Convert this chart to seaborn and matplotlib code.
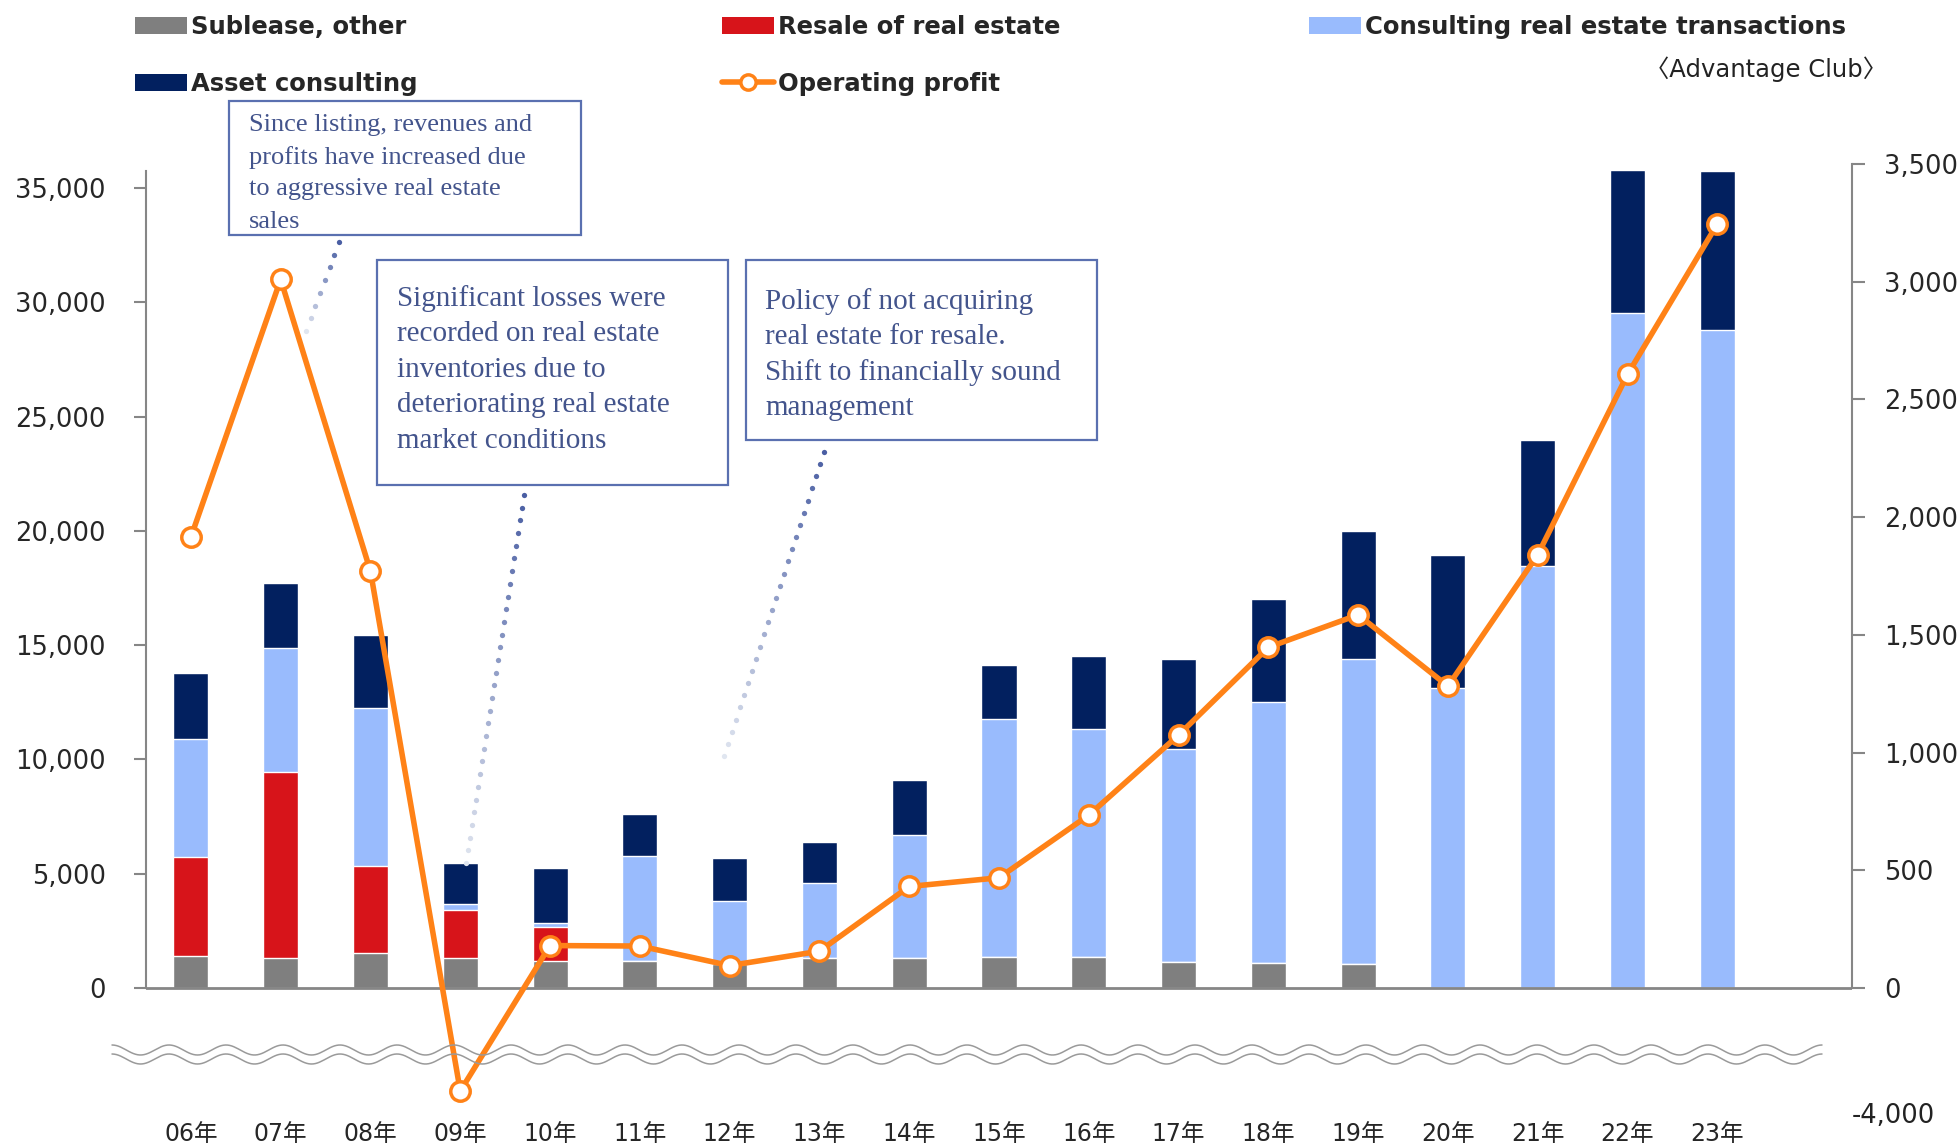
import numpy as np
import matplotlib
matplotlib.use('Agg')
import matplotlib.pyplot as plt
import seaborn as sns
from matplotlib.patches import Patch, Rectangle
from matplotlib.lines import Line2D
from matplotlib.ticker import FixedLocator, FuncFormatter

# data
years = ['06年', '07年', '08年', '09年', '10年', '11年', '12年', '13年', '14年',
         '15年', '16年', '17年', '18年', '19年', '20年', '21年', '22年', '23年']
sublease = [1400, 1330, 1510, 1290, 1190, 1160, 1070, 1330, 1320,
            1360, 1350, 1130, 1100, 1070, 0, 0, 0, 0]
resale = [4350, 8110, 3820, 2120, 1475, 0, 0, 0, 0,
          0, 0, 0, 0, 0, 0, 0, 0, 0]
consulting = [5150, 5420, 6920, 280, 190, 4620, 2720, 3280, 5360,
              10410, 9990, 9330, 11390, 13330, 13140, 18450, 29520, 28800]
asset = [2900, 2850, 3210, 1785, 2385, 1830, 1880, 1760, 2410,
         2360, 3170, 3940, 4540, 5590, 5810, 5540, 6250, 6960]
op_profit = [1915, 3010, 1770, -3220, 180, 178, 95, 156, 431,
             468, 734, 1074, 1447, 1585, 1282, 1840, 2606, 3245]

left_ticks = [0, 5000, 10000, 15000, 20000, 25000, 30000, 35000]
right_ticks = [0, 500, 1000, 1500, 2000, 2500, 3000, 3500]

notes = [
    ['Since listing, revenues and', 'profits have increased due',
     'to aggressive real estate', 'sales'],
    ['Significant losses were', 'recorded on real estate',
     'inventories due to', 'deteriorating real estate',
     'market conditions'],
    ['Policy of not acquiring', 'real estate for resale.',
     'Shift to financially sound', 'management'],
]

GRAY = '#7F7F7F'
RED = '#D7141A'
LBLUE = '#99BBFD'
NAVY = '#02205F'
ORANGE = '#FF8217'
AXC = '#868686'
NOTE_C = '#43548C'
BOX_C = '#5A70B0'

sns.set_theme(style='white')
plt.rcParams['font.family'] = ['DejaVu Sans', 'Noto Sans CJK JP']

W, H = 1959, 1145
fx = lambda px: px / W
fy = lambda py: 1 - py / H

fig = plt.figure(figsize=(W / 100, H / 100), dpi=100)
ax = fig.add_axes([fx(146), fy(1116), fx(1852) - fx(146), fy(164) - fy(1116)])

# stacked bars: draw cumulative totals back to front
c1 = np.array(sublease)
c2 = c1 + np.array(resale)
c3 = c2 + np.array(consulting)
c4 = c3 + np.array(asset)
for vals, col in [(c4, NAVY), (c3, LBLUE), (c2, RED), (c1, GRAY)]:
    sns.barplot(x=years, y=vals, color=col, saturation=1, width=0.39,
                errorbar=None, ax=ax)
ax.set(xlabel='', ylabel='')
ax.set_xlim(-0.5, 18.5)
ax.set_ylim(-5600, 36046)
ax.yaxis.set_major_locator(FixedLocator(left_ticks))
ax.yaxis.set_major_formatter(FuncFormatter(lambda v, p: f'{v:,.0f}'))
for s in ['top', 'right', 'bottom']:
    ax.spines[s].set_visible(False)
ax.spines['left'].set_bounds(0, 35750)
ax.spines['left'].set_color(AXC)
ax.spines['left'].set_linewidth(1.5)
ax.axhline(0, color=AXC, lw=2, zorder=5)
ax.tick_params(axis='y', length=9, width=1.5, color=AXC, pad=20,
               labelsize=18.5, left=True)
ax.tick_params(axis='x', length=0, pad=4, labelsize=17)

# operating profit on a broken right axis
k = 0.136
fwd = lambda y: np.where(y < 0, y * k, y)
inv = lambda y: np.where(y < 0, y / k, y)
ax2 = ax.twinx()
ax2.set_yscale('function', functions=(fwd, inv))
sns.lineplot(x=np.arange(len(years)), y=op_profit, ax=ax2, color=ORANGE, lw=4,
             marker='o', markersize=14, markerfacecolor='white',
             markeredgecolor=ORANGE, markeredgewidth=2.5, zorder=6)
ax2.set_ylim(-4000, 3500)
ax2.set_xlim(-0.5, 18.5)
ax2.yaxis.set_major_locator(FixedLocator(right_ticks))
ax2.yaxis.set_major_formatter(FuncFormatter(lambda v, p: f'{v:,.0f}'))
for s in ['top', 'left', 'bottom']:
    ax2.spines[s].set_visible(False)
ax2.spines['right'].set_bounds(0, 3500)
ax2.spines['right'].set_color(AXC)
ax2.spines['right'].set_linewidth(1.5)
ax2.tick_params(axis='y', length=9, width=1.5, color=AXC, pad=14,
                labelsize=18.5, right=True)
ax2.set_ylabel('')
ax2.text(1.0, -4000, '-4,000', transform=ax2.get_yaxis_transform(),
         ha='left', va='center', fontsize=18.5, color='#222222')

# wavy break marks
xs = np.linspace(112, 1822, 800)
for yc in (1050, 1059):
    ys = yc - 5 * np.cos((xs - 112) / 57 * 2 * np.pi)
    fig.add_artist(Line2D(fx(xs), fy(ys), color='#9A9A9A', lw=1.1,
                          transform=fig.transFigure))

# legend
fs = 17.5
lkw = dict(loc='upper left', frameon=False, borderpad=0, borderaxespad=0,
           handlelength=2.14, handleheight=0.74, handletextpad=0.18,
           labelspacing=1.36, prop=dict(weight='bold', size=fs))
h_sub = Patch(facecolor=GRAY, edgecolor='none')
h_res = Patch(facecolor=RED, edgecolor='none')
h_con = Patch(facecolor=LBLUE, edgecolor='none')
h_ast = Patch(facecolor=NAVY, edgecolor='none')
h_op = Line2D([], [], color=ORANGE, lw=4, marker='o', ms=11,
              mfc='white', mec=ORANGE, mew=2.5)
fig.legend([h_sub, h_ast], ['Sublease, other', 'Asset consulting'],
           bbox_to_anchor=(fx(135), fy(15)), **lkw)
fig.legend([h_res, h_op], ['Resale of real estate', 'Operating profit'],
           bbox_to_anchor=(fx(722), fy(15)), **lkw)
fig.legend([h_con], ['Consulting real estate transactions'],
           bbox_to_anchor=(fx(1309), fy(15)), **lkw)
fig.text(fx(1887), fy(69), '〈Advantage Club〉', ha='right', va='center',
         fontsize=fs, color='#222222')

# note boxes
boxes = [((229, 101, 581, 235), 249, 125, 32.2, 19),
         ((377, 260, 728, 485), 397, 299, 35.4, 21),
         ((746, 260, 1097, 440), 765, 302, 35.4, 21)]
for (x0, y0, x1, y1), tx, ty, sp, size in boxes:
    fig.add_artist(Rectangle((fx(x0), fy(y1)), fx(x1) - fx(x0), fy(y0) - fy(y1),
                             transform=fig.transFigure, facecolor='white',
                             edgecolor=BOX_C, lw=1.6, zorder=7))
for ((x0, y0, x1, y1), tx, ty, sp, size), lines in zip(boxes, notes):
    for i, line in enumerate(lines):
        fig.text(fx(tx), fy(ty + i * sp), line, ha='left', va='center',
                 fontsize=size, family='Liberation Serif', color=NOTE_C, zorder=8)

# dotted leader lines, fading out
dark = np.array([0.29, 0.37, 0.64])
light = np.array([0.88, 0.90, 0.94])
for (xa, ya), (xb, yb) in [((339, 242), (306, 331)),
                           ((524, 495), (466, 863)),
                           ((824, 452), (724, 756))]:
    n = int(np.hypot(xb - xa, yb - ya) / 12.7) + 1
    for t in np.linspace(0, 1, n):
        c = dark + (light - dark) * t
        fig.add_artist(Line2D([fx(xa + (xb - xa) * t)], [fy(ya + (yb - ya) * t)],
                              marker='o', ms=3.8, color=c, mec='none', lw=0,
                              transform=fig.transFigure, zorder=7))

fig.savefig('out.png', dpi=100)
